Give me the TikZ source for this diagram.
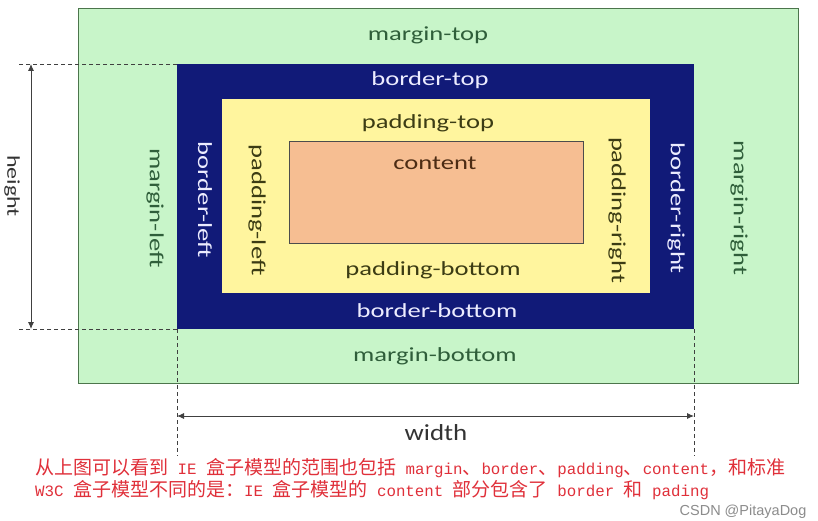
\documentclass[tikz,border=0pt]{standalone}
\usepackage{fontspec}
\setmainfont{Carlito}[FakeStretch=1.33]
\newfontfamily\widthfont{Carlito}[FakeStretch=1.17]
\newfontfamily\cjk{Noto Sans CJK SC}
\newfontfamily\lmono{Liberation Mono}
\newfontfamily\wmfont{Liberation Sans}
\usetikzlibrary{arrows.meta}
\definecolor{margincol}{HTML}{C8F5C9}
\definecolor{bordercol}{HTML}{111A78}
\definecolor{paddingcol}{HTML}{FFF59E}
\definecolor{contentcol}{HTML}{F6BE92}
\definecolor{margintext}{HTML}{2F5E3A}
\definecolor{bordertext}{HTML}{ECECFF}
\definecolor{paddingtext}{HTML}{3C3C14}
\definecolor{contenttext}{HTML}{4C2C14}
\definecolor{notered}{HTML}{E0303A}
\newcommand{\lat}[1]{{\lmono\fontsize{15.8}{19}\selectfont #1}}
\tikzset{
  boxshape/.style={rectangle, inner sep=0pt, outer sep=0pt},
  lbl/.style={inner sep=0pt, font=\fontsize{20}{24}\selectfont},
  vlbl/.style={lbl, rotate=-90},
  dimline/.style={draw=black!75, line width=0.9pt},
  dimarrow/.style={dimline, {Latex[length=7pt,width=6pt]}-{Latex[length=7pt,width=6pt]}},
  guide/.style={draw=black!75, line width=0.9pt, dash pattern=on 4pt off 3pt},
  note/.style={inner sep=0pt, anchor=west, text=notered, font=\cjk\fontsize{19}{22}\selectfont}
}
\begin{document}
\begin{tikzpicture}[x=1pt,y=-1pt]
\useasboundingbox[fill=white] (0,0) rectangle (818,521);
% boxes
\node[boxshape, fill=margincol, draw=black!60!green!40!gray, line width=0.8pt, minimum width=720pt, minimum height=375pt] (margin) at (438,195.5) {};
\node[boxshape, fill=bordercol, minimum width=517pt, minimum height=265pt] (border) at (435.5,196.5) {};
\node[boxshape, fill=paddingcol, minimum width=428pt, minimum height=194pt] (padding) at (436,196) {};
\node[boxshape, fill=contentcol, draw=black!70, line width=0.6pt, minimum width=294pt, minimum height=102pt] (content) at (436,192) {};
% labels
\node[lbl, text=margintext] (mt) at (428,35) {margin-top};
\node[lbl, text=bordertext] (bt) at (430,80) {border-top};
\node[lbl, text=paddingtext] (pt) at (428,123) {padding-top};
\node[lbl, text=contenttext] (ct) at (435,163) {content};
\node[lbl, text=paddingtext] (pb) at (433,270) {padding-bottom};
\node[lbl, text=bordertext] (bb) at (437,311) {border-bottom};
\node[lbl, text=margintext] (mb) at (435,356) {margin-bottom};
\node[vlbl, text=margintext] (ml) at (155,208) {margin-left};
\node[vlbl, text=bordertext] (bl) at (205,200) {border-left};
\node[vlbl, text=paddingtext] (pl) at (257,210) {padding-left};
\node[vlbl, text=paddingtext] (pr) at (617,210) {padding-right};
\node[vlbl, text=bordertext] (br) at (676,208) {border-right};
\node[vlbl, text=margintext] (mr) at (739,208) {margin-right};
% guides
\coordinate (gtl) at (17,64);
\coordinate (gbl) at (17,329);
\coordinate (gl) at (177,456);
\coordinate (gr) at (694,456);
\draw[guide] (border.north west) -- (gtl);
\draw[guide] (border.south west) -- (gbl);
\draw[guide] (border.south west) -- (gl);
\draw[guide] (border.south east) -- (gr);
% dimensions
\coordinate (ht) at (31,64);
\coordinate (hb) at (31,329);
\coordinate (wl) at (177,416);
\coordinate (wr) at (694,416);
\draw[dimarrow] (ht) -- (hb);
\draw[dimarrow] (wl) -- (wr);
\node[vlbl, text=black!80, font=\fontsize{18}{22}\selectfont] (hlabel) at (12,186) {height};
\node[lbl, text=black!80, font=\widthfont\fontsize{23}{28}\selectfont] (wlabel) at (436,433) {width};
% note
\node[note] (note1) at (35,468) {从上图可以看到\lat{ IE }盒子模型的范围也包括\lat{ margin}、\lat{border}、\lat{padding}、\lat{content}，和标准};
\node[note] (note2) at (35,490) {\lat{W3C }盒子模型不同的是：\lat{IE }盒子模型的\lat{ content }部分包含了\lat{ border }和\lat{ pading}};
\node[inner sep=0pt, text=black!45, font=\wmfont\fontsize{14.5}{17}\selectfont] (wm) at (743,512) {CSDN @PitayaDog};
\end{tikzpicture}
\end{document}
